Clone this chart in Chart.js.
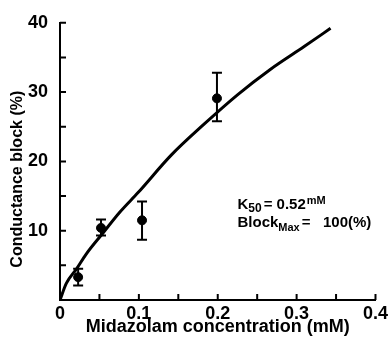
<!DOCTYPE html>
<html>
<head>
<meta charset="utf-8">
<script src="https://cdn.jsdelivr.net/npm/chart.js@4"></script>
<style>
  html, body { margin: 0; padding: 0; background: #fff; }
  #wrap { width: 391px; height: 339px; }
</style>
</head>
<body>
<div id="wrap"><canvas id="chart" width="391" height="339"></canvas></div>
<script>
// measured points (mean and error bar ends)
const concentration = [0.023, 0.052, 0.104, 0.199];
const blockMean = [3.3, 10.4, 11.5, 29.1];
const blockLow = [2.1, 9.3, 8.7, 25.8];
const blockHigh = [4.5, 11.6, 14.2, 32.8];

// fitted curve
const fitConc = [0, 0.008, 0.021, 0.033, 0.054, 0.076, 0.099, 0.141, 0.183, 0.225, 0.267, 0.31, 0.343];
const fitBlock = [0, 2.4, 4.5, 6.6, 9.6, 12.7, 15.5, 20.9, 25.4, 29.6, 33.3, 36.6, 39.2];

const xTickLabels = ['0', '0.1', '0.2', '0.3', '0.4'];
const yTickLabels = ['10', '20', '30', '40'];

const FONT = 'Liberation Sans, Arial, sans-serif';

const errorBars = {
  id: 'errorBars',
  afterDatasetsDraw(chart) {
    const { ctx, scales: { x, y } } = chart;
    ctx.save();
    ctx.strokeStyle = '#000';
    ctx.lineWidth = 2;
    concentration.forEach((c, i) => {
      const px = x.getPixelForValue(c);
      const top = y.getPixelForValue(blockHigh[i]);
      const bot = y.getPixelForValue(blockLow[i]);
      ctx.beginPath();
      ctx.moveTo(px, top); ctx.lineTo(px, bot);
      ctx.moveTo(px - 5, top); ctx.lineTo(px + 5, top);
      ctx.moveTo(px - 5, bot); ctx.lineTo(px + 5, bot);
      ctx.stroke();
    });
    ctx.restore();
  },
};

// inward tick marks on both axes
const innerTicks = {
  id: 'innerTicks',
  afterDraw(chart) {
    const { ctx, chartArea } = chart;
    const x = chart.scales.x;
    const y = chart.scales.y;
    ctx.save();
    ctx.strokeStyle = '#000';
    ctx.lineWidth = 2;
    ctx.beginPath();
    for (let i = 1; i < x.ticks.length; i++) {
      const px = x.getPixelForValue(x.ticks[i].value);
      ctx.moveTo(px, chartArea.bottom);
      ctx.lineTo(px, chartArea.bottom - 6);
    }
    for (let i = 1; i < y.ticks.length; i++) {
      const py = y.getPixelForValue(y.ticks[i].value);
      ctx.moveTo(chartArea.left, py);
      ctx.lineTo(chartArea.left + 6, py);
    }
    ctx.stroke();
    ctx.restore();
  },
};

const annotation = {
  id: 'annotation',
  afterDraw(chart) {
    const { ctx, scales: { x, y } } = chart;
    const left = x.getPixelForValue(0.225);
    const line1 = y.getPixelForValue(13.7);
    const line2 = y.getPixelForValue(11.1);
    ctx.save();
    ctx.fillStyle = '#000';
    ctx.textBaseline = 'middle';
    ctx.textAlign = 'left';

    let cx = left;
    ctx.font = `bold 15px ${FONT}`;
    ctx.fillText('K', cx, line1); cx += ctx.measureText('K').width;
    ctx.font = `bold 12px ${FONT}`;
    ctx.fillText('50', cx, line1 + 4); cx += ctx.measureText('50').width + 2;
    ctx.font = `bold 15px ${FONT}`;
    ctx.fillText('= 0.52', cx, line1); cx += ctx.measureText('= 0.52').width + 1;
    ctx.font = `bold 11px ${FONT}`;
    ctx.fillText('mM', cx, line1 - 4);

    cx = left;
    ctx.font = `bold 15px ${FONT}`;
    ctx.fillText('Block', cx, line2); cx += ctx.measureText('Block').width;
    ctx.font = `bold 11px ${FONT}`;
    ctx.fillText('Max', cx, line2 + 5); cx += ctx.measureText('Max').width + 2;
    ctx.font = `bold 15px ${FONT}`;
    ctx.fillText('=   100(%)', cx, line2);
    ctx.restore();
  },
};

const data = {
  datasets: [
    {
      type: 'line',
      data: fitConc.map((c, i) => ({ x: c, y: fitBlock[i] })),
      borderColor: '#000',
      borderWidth: 3,
      pointRadius: 0,
      cubicInterpolationMode: 'monotone',
      fill: false,
    },
    {
      type: 'scatter',
      data: concentration.map((c, i) => ({ x: c, y: blockMean[i] })),
      backgroundColor: '#000',
      borderColor: '#000',
      pointRadius: 4.5,
    },
  ],
};

const chart = new Chart(document.getElementById('chart'), {
  type: 'scatter',
  data,
  plugins: [errorBars, innerTicks, annotation],
  options: {
    responsive: false,
    animation: false,
    layout: { padding: { top: 15, right: 13, left: 0, bottom: 0 } },
    plugins: { legend: { display: false }, tooltip: { enabled: false } },
    scales: {
      x: {
        type: 'linear',
        min: 0,
        max: 0.4,
        afterFit: (s) => { s.height = 39; },
        border: { display: true, color: '#000', width: 2 },
        grid: { drawOnChartArea: false, drawTicks: false, color: '#000' },
        ticks: {
          stepSize: 0.05,
          autoSkip: false,
          maxRotation: 0,
          padding: 3,
          color: '#000',
          font: { family: FONT, size: 18, weight: 'bold' },
          callback: (v, i) => (i % 2 === 0 ? xTickLabels[i / 2] : ''),
        },
        title: {
          display: true,
          text: 'Midazolam concentration (mM)',
          color: '#000',
          font: { family: FONT, size: 18, weight: 'bold' },
          padding: { top: 0, bottom: 1 },
        },
      },
      y: {
        type: 'linear',
        min: 0,
        max: 40,
        afterFit: (s) => { s.width = 60; },
        border: { display: true, color: '#000', width: 2 },
        grid: { drawOnChartArea: false, drawTicks: false, color: '#000' },
        ticks: {
          stepSize: 5,
          autoSkip: false,
          padding: 12,
          color: '#000',
          font: { family: FONT, size: 18, weight: 'bold' },
          callback: (v, i) => (i % 2 === 0 && i > 0 ? yTickLabels[i / 2 - 1] : ''),
        },
        title: {
          display: true,
          text: 'Conductance block (%)        ',
          color: '#000',
          font: { family: FONT, size: 16, weight: 'bold' },
          padding: { top: 8, bottom: 0 },
        },
      },
    },
  },
});
</script>
</body>
</html>
